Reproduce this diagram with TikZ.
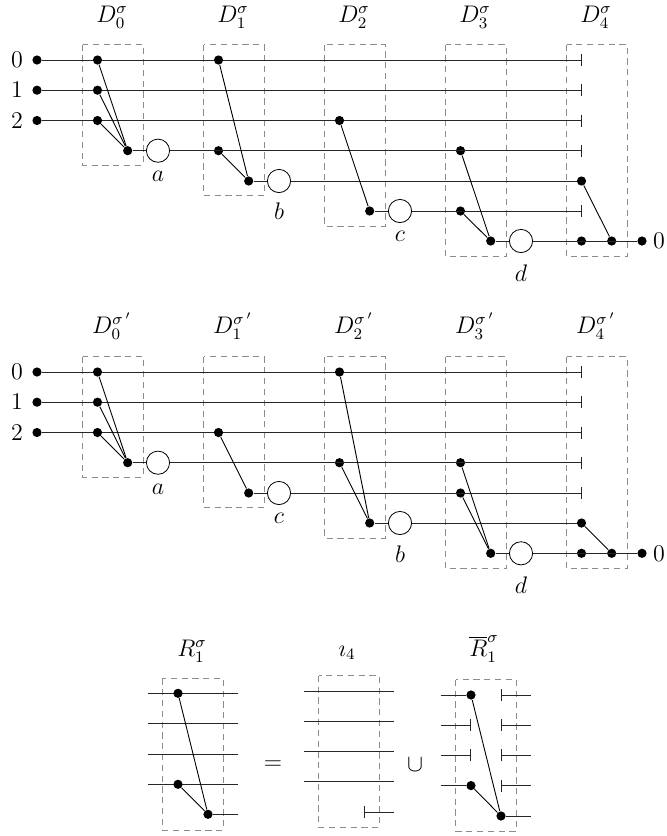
\documentclass[tikz,border=0pt]{standalone}
\usetikzlibrary{arrows.meta}
\tikzset{
  x=0.5pt,y=-0.5pt,
  dotn/.style={circle,fill=black,inner sep=0pt,minimum size=4.6pt},
  gate/.style={circle,draw=black,fill=white,line width=0.4pt,inner sep=0pt,minimum size=11.6pt},
  wire/.style={line width=0.5pt,black!85},
  link/.style={line width=0.45pt,black},
  endbar/.style={wire,-{Bar[width=6pt,line width=0.5pt]}},
  startbar/.style={wire,{Bar[width=6pt,line width=0.5pt]}-},
  dashbox/.style={draw=black!45,line width=0.4pt,dash pattern=on 3.1pt off 2.3pt},
  lab/.style={inner sep=0pt,font=\large},
}
\newcommand{\dn}[3]{\node[dotn] (#1) at (#2,#3) {};}
\newcommand{\gateat}[4]{\node[gate] (g#1) at (#2,#3) {};\node[lab] (l#1) at (#2,#4) {$#1$};}
\begin{document}
\begin{tikzpicture}
\useasboundingbox (0,0) rectangle (667,836);
% ---------- dashed boxes, top
\foreach \n/\xa/\yb in {0/82.5/165,1/203.5/195.5,2/324.5/226,3/445.5/256.5,4/566.5/256.5}{
  \draw[dashbox] (\xa,44.5) rectangle ++(60.5,\yb-44.5);
  \draw[dashbox] (\xa,356.5) rectangle ++(60.5,\yb-44.5);
}
% ---------- titles
\foreach \n/\x in {0/112,1/233,2/354,3/475,4/596}{
  \node[lab] (ta\n) at (\x,17) {$D_{\n}^{\sigma}$};
  \node[lab] (tb\n) at (\x,326) {$D_{\n}^{\sigma\,'}$};
}
% ---------- top diagram
\foreach \n/\y/\t in {r0/60/0,r1/90.2/1,r2/120.5/2}{
  \node[lab] (lab\n) at (17,\y) {$\t$};
  \dn{s\n}{37}{\y}
  \coordinate (e\n) at (581.5,\y);
  \draw[endbar] (s\n) -- (e\n);
}
\dn{A1}{97.5}{60}\dn{A2}{97.5}{90.2}\dn{A3}{97.5}{120.5}\dn{A4}{127.7}{150.7}
\dn{B1}{218.5}{60}\dn{B2}{218.5}{150.7}\dn{B3}{248.7}{181}
\dn{C1}{339.5}{120.5}\dn{C2}{369.7}{211}
\dn{E1}{460.5}{150.7}\dn{E2}{460.5}{211}\dn{E3}{490.7}{241}
\dn{F1}{581.5}{181}\dn{F2}{581.5}{241}\dn{F3}{611.7}{241}\dn{F4}{642}{241}
\coordinate (e3) at (581.5,150.7);
\coordinate (e5) at (581.5,211);
\draw[endbar] (A4) -- (e3);
\draw[wire] (B3) -- (F1);
\draw[endbar] (C2) -- (e5);
\draw[wire] (E3) -- (F4);
\foreach \a/\b in {A1/A4,A2/A4,A3/A4,B1/B3,B2/B3,C1/C2,E1/E3,E2/E3,F1/F3}{\draw[link] (\a) -- (\b);}
\gateat{a}{158}{150.7}{176.5}
\gateat{b}{279}{181}{211.5}
\gateat{c}{400}{211}{236.5}
\gateat{d}{521}{241}{273}
\node[lab] (z1) at (659,241) {$0$};
% ---------- middle diagram
\foreach \n/\y/\t in {q0/372/0,q1/402.2/1,q2/432.5/2}{
  \node[lab] (lab\n) at (17,\y) {$\t$};
  \dn{s\n}{37}{\y}
  \coordinate (e\n) at (581.5,\y);
  \draw[endbar] (s\n) -- (e\n);
}
\dn{H1}{97.5}{372}\dn{H2}{97.5}{402.2}\dn{H3}{97.5}{432.5}\dn{H4}{127.7}{462.7}
\dn{I1}{218.5}{432.5}\dn{I2}{248.7}{493}
\dn{J1}{339.5}{372}\dn{J2}{339.5}{462.7}\dn{J3}{369.7}{523}
\dn{K1}{460.5}{462.7}\dn{K2}{460.5}{493}\dn{K3}{490.7}{553.3}
\dn{L1}{581.5}{523}\dn{L2}{581.5}{553.3}\dn{L3}{611.7}{553.3}\dn{L4}{642}{553.3}
\coordinate (eq3) at (581.5,462.7);
\coordinate (eq4) at (581.5,493);
\draw[endbar] (H4) -- (eq3);
\draw[endbar] (I2) -- (eq4);
\draw[wire] (J3) -- (L1);
\draw[wire] (K3) -- (L4);
\foreach \a/\b in {H1/H4,H2/H4,H3/H4,I1/I2,J1/J3,J2/J3,K1/K3,K2/K3,L1/L3}{\draw[link] (\a) -- (\b);}
\node[gate] (ga2) at (158,462.7) {};\node[lab] (la2) at (158,489) {$a$};
\node[gate] (gc2) at (279,493) {};\node[lab] (lc2) at (279,518.5) {$c$};
\node[gate] (gb2) at (400,523) {};\node[lab] (lb2) at (400,554) {$b$};
\node[gate] (gd2) at (521,553.3) {};\node[lab] (ld2) at (521,585) {$d$};
\node[lab] (z2) at (659,553.3) {$0$};
% ---------- bottom row
\draw[dashbox] (162.7,678.3) rectangle (223.3,830);
\draw[dashbox] (318.5,675.7) rectangle (379,827.3);
\draw[dashbox] (455.5,679.7) rectangle (516,831);
\node[lab] (tR) at (192,651) {$R_1^{\sigma}$};
\node[lab] (tI) at (347,653) {$\imath_4$};
\node[lab] (tS) at (484,649) {$\overline{R}_1^{\sigma}$};
\node[lab] (eqs) at (273,765) {$=$};
\node[lab] (cup) at (415,765) {$\cup$};
% R
\foreach \n/\y in {1/693.3,2/723.7,3/754,4/784.3}{
  \coordinate (ra\n) at (147.7,\y);\coordinate (rb\n) at (238.3,\y);
  \draw[wire] (ra\n) -- (rb\n);
}
\coordinate (ra5) at (238.3,814.3);
\dn{R1}{178}{693.3}\dn{R4}{178}{784.3}\dn{R5}{208}{814.3}
\draw[wire] (R5) -- (ra5);
\draw[link] (R1) -- (R5);\draw[link] (R4) -- (R5);
% iota
\foreach \n/\y in {1/691,2/721.2,3/751.5,4/781.8}{
  \coordinate (ia\n) at (303.5,\y);\coordinate (ib\n) at (394,\y);
  \draw[wire] (ia\n) -- (ib\n);
}
\coordinate (ia5) at (364,812);\coordinate (ib5) at (394,812);
\draw[startbar] (ia5) -- (ib5);
% Rbar
\foreach \n/\y in {2/725.2,3/755.4}{
  \coordinate (sa\n) at (440.5,\y);\coordinate (sb\n) at (471,\y);
  \draw[endbar] (sa\n) -- (sb\n);
}
\dn{S1}{471}{695}\dn{S4}{471}{785.6}\dn{S5}{501}{816}
\coordinate (sa1) at (440.5,695);\coordinate (sa4) at (440.5,785.6);\coordinate (sc5) at (531,816);
\draw[wire] (sa1) -- (S1);\draw[wire] (sa4) -- (S4);\draw[wire] (S5) -- (sc5);
\draw[link] (S1) -- (S5);\draw[link] (S4) -- (S5);
\foreach \n/\y in {1/695,2/725.2,3/755.4,4/785.6}{
  \coordinate (sd\n) at (501,\y);\coordinate (se\n) at (531,\y);
  \draw[startbar] (sd\n) -- (se\n);
}
\end{tikzpicture}
\end{document}
